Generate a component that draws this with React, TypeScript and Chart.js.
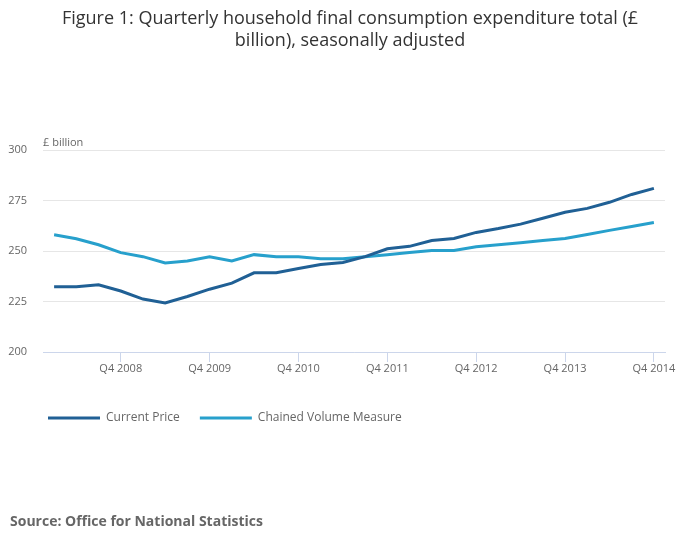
import { useEffect, useRef } from 'react';
import { Chart, registerables } from 'chart.js';

Chart.register(...registerables);

const quarters = [
  'Q1 2008', 'Q2 2008', 'Q3 2008', 'Q4 2008',
  'Q1 2009', 'Q2 2009', 'Q3 2009', 'Q4 2009',
  'Q1 2010', 'Q2 2010', 'Q3 2010', 'Q4 2010',
  'Q1 2011', 'Q2 2011', 'Q3 2011', 'Q4 2011',
  'Q1 2012', 'Q2 2012', 'Q3 2012', 'Q4 2012',
  'Q1 2013', 'Q2 2013', 'Q3 2013', 'Q4 2013',
  'Q1 2014', 'Q2 2014', 'Q3 2014', 'Q4 2014',
];

const currentPrice = [
  232.3, 232.3, 233.3, 230.2, 226.2, 224.3, 227.5, 231.1,
  234.1, 239.2, 239.2, 241.3, 243.3, 244.3, 247.2, 251.1,
  252.3, 255.2, 256.2, 259.2, 261.1, 263.3, 266.2, 269.2,
  271.1, 274.1, 278.0, 281.0,
];

const chainedVolume = [
  258.0, 256.1, 253.1, 249.2, 247.2, 244.1, 245.1, 247.2,
  245.1, 248.2, 247.2, 247.2, 246.2, 246.2, 247.2, 248.2,
  249.2, 250.2, 250.2, 252.1, 253.1, 254.1, 255.2, 256.2,
  258.2, 260.2, 262.1, 264.1,
];

const FONT = "'Open Sans', sans-serif";
const AXIS_LINE = '#ccd6eb';

// "£ billion" sits above the top gridline, left-aligned with the plot
const unitLabel = {
  id: 'unitLabel',
  afterDraw(chart: Chart) {
    const { ctx, chartArea } = chart;
    ctx.save();
    ctx.font = `11px ${FONT}`;
    ctx.fillStyle = '#666';
    ctx.textBaseline = 'middle';
    ctx.textAlign = 'left';
    ctx.fillText('£ billion', chartArea.left, chartArea.top - 7);
    ctx.restore();
  },
};

// nudge the legend so its first item lines up a little right of the plot edge
const legendShift = {
  id: 'legendShift',
  afterLayout(chart: any) {
    if (chart.legend) chart.legend.left += 28;
  },
};

export default function App() {
  const canvasRef = useRef<HTMLCanvasElement>(null);

  useEffect(() => {
    if (!canvasRef.current) return;
    Chart.defaults.font.family = FONT;

    const chart = new Chart(canvasRef.current, {
      type: 'line',
      data: {
        labels: quarters,
        datasets: [
          {
            label: 'Current Price',
            data: currentPrice,
            borderColor: '#206095',
            backgroundColor: '#206095',
            borderWidth: 3,
            pointRadius: 0,
            tension: 0,
          },
          {
            label: 'Chained Volume Measure',
            data: chainedVolume,
            borderColor: '#27a0cc',
            backgroundColor: '#27a0cc',
            borderWidth: 3,
            pointRadius: 0,
            tension: 0,
          },
        ],
      },
      options: {
        responsive: false,
        animation: false,
        layout: { padding: { top: 150, left: 0, right: 35, bottom: 115 } },
        plugins: {
          tooltip: { enabled: false },
          legend: {
            position: 'bottom',
            align: 'start',
            labels: {
              boxWidth: 52,
              boxHeight: 3,
              padding: 20,
              color: '#666',
              font: { family: FONT, size: 12 },
              generateLabels: (c: Chart) =>
                Chart.defaults.plugins.legend.labels
                  .generateLabels(c)
                  .map((l: any) => ({ ...l, fillStyle: l.strokeStyle, lineWidth: 0 })),
            },
          },
        },
        scales: {
          x: {
            offset: true,
            grid: {
              drawOnChartArea: false,
              tickLength: 10,
              color: (ctx: any) => (ctx.index % 4 === 3 ? AXIS_LINE : 'rgba(0,0,0,0)'),
            },
            border: { color: AXIS_LINE },
            ticks: {
              autoSkip: false,
              maxRotation: 0,
              padding: 0,
              color: '#666',
              font: { family: FONT, size: 11 },
              callback: (_v: any, i: number) => (i % 4 === 3 ? quarters[i] : ''),
            },
            afterFit: (scale: any) => { scale.height = 40; },
          },
          y: {
            min: 200,
            max: 300,
            grid: { color: '#e6e6e6', drawTicks: false },
            border: { display: false },
            ticks: {
              stepSize: 25,
              padding: 16,
              color: '#666',
              font: { family: FONT, size: 11 },
            },
            afterFit: (scale: any) => { scale.width = 43; },
          },
        },
      },
      plugins: [unitLabel, legendShift],
    });

    return () => { chart.destroy(); };
  }, []);

  return (
    <div style={{ position: 'absolute', top: 0, left: 0, width: 700, height: 549, background: '#fff', fontFamily: FONT }}>
      <canvas ref={canvasRef} width={700} height={549} style={{ position: 'absolute', top: 0, left: 0 }} />
      <div style={{ position: 'absolute', top: 6, left: 0, width: 700, textAlign: 'center', fontSize: 18, lineHeight: '22px', color: '#333' }}>
        Figure 1: Quarterly household final consumption expenditure total (£
        <br />
        billion), seasonally adjusted
      </div>
      <div style={{ position: 'absolute', top: 512, left: 10, fontSize: 14, lineHeight: '18px', fontWeight: 'bold', color: '#666' }}>
        Source: Office for National Statistics
      </div>
    </div>
  );
}
